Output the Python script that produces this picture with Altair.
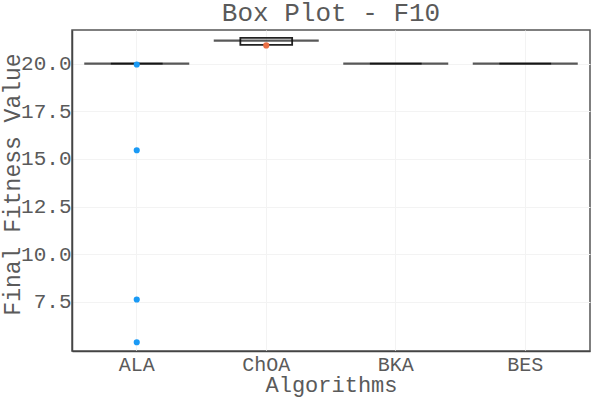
import altair as alt
import pandas as pd

algorithms = ["ALA", "ChOA", "BKA", "BES"]
q1 = [20.0, 20.98, 20.0, 20.0]
median = [20.0, 21.2, 20.0, 20.0]
q3 = [20.0, 21.35, 20.0, 20.0]

out_alg = ["ALA", "ALA", "ALA", "ALA", "ChOA"]
out_val = [19.95, 15.45, 7.62, 5.38, 20.95]
out_color = ["#1a9af5", "#1a9af5", "#1a9af5", "#1a9af5", "#ea6f45"]

y_ticks = [7.5, 10.0, 12.5, 15.0, 17.5, 20.0]

FONT = "Courier New, Liberation Mono, monospace"
TXT = "#5a5a5a"

box_df = pd.DataFrame({"alg": algorithms, "q1": q1, "median": median, "q3": q3})
out_df = pd.DataFrame({"alg": out_alg, "val": out_val, "color": out_color})

xenc = alt.X("alg:N", sort=algorithms, title="Algorithms",
             scale=alt.Scale(paddingInner=0, paddingOuter=0),
             axis=alt.Axis(labelAngle=0, ticks=False, labelFontSize=20,
                           titleFontSize=22, titleFontWeight="normal",
                           labelPadding=3, titlePadding=0,
                           domainColor="#444", domainWidth=1.5,
                           gridColor="#f3f3f3", grid=True))
yscale = alt.Scale(domain=[4.92, 21.76], nice=False, zero=False)
yaxis = alt.Axis(values=y_ticks, format=".1f", ticks=False, labelFontSize=21,
                 titleFontSize=23, titleFontWeight="normal", labelPadding=1,
                 titlePadding=-4, titleY=154, domainColor="#444", domainWidth=1.5,
                 gridColor="#f3f3f3", grid=True)

box = alt.Chart(box_df).mark_bar(
    width=alt.RelativeBandSize(0.4), fill="white", fillOpacity=0,
    stroke="#222", strokeWidth=1.8
).encode(
    x=xenc,
    y=alt.Y("q1:Q", scale=yscale, axis=yaxis, title="Final Fitness Value"),
    y2="q3:Q",
)

med = alt.Chart(box_df).mark_tick(size=105, thickness=2.2, color="#111").encode(
    x=alt.X("alg:N", sort=algorithms),
    y=alt.Y("median:Q"),
)

pts = alt.Chart(out_df).mark_circle(size=38, opacity=1).encode(
    x=alt.X("alg:N", sort=algorithms),
    y=alt.Y("val:Q"),
    color=alt.Color("color:N", scale=None),
)

chart = alt.layer(box, med, pts).properties(
    width=518, height=321,
    title=alt.Title("Box Plot - F10", fontSize=26, fontWeight="normal",
                    color=TXT, font=FONT, anchor="middle", offset=4),
    padding={"left": 72, "top": 30, "right": 10, "bottom": 49},
    autosize=alt.AutoSizeParams(type="none"),
).configure(font=FONT).configure_axis(
    labelFont=FONT, titleFont=FONT, labelColor=TXT, titleColor=TXT
).configure_view(stroke="#555", strokeWidth=1.5)

chart.save("out.html", embed_options={"renderer": "svg", "actions": False})
